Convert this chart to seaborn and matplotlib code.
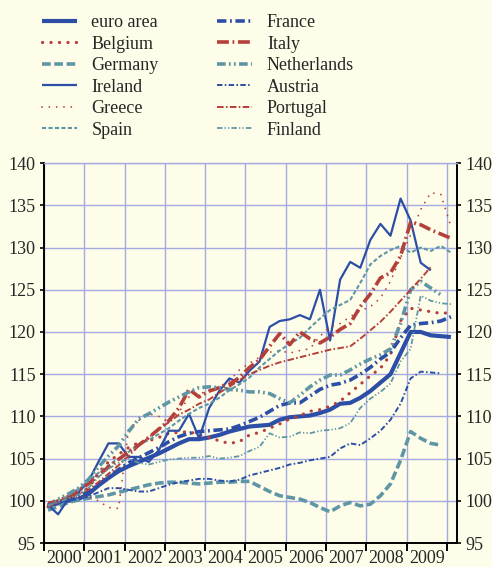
import numpy as np
import pandas as pd
import seaborn as sns
import matplotlib.pyplot as plt
from matplotlib.ticker import FixedLocator

# quarterly index, 2000Q1 = 100
euro_area = [99.4, 99.7, 100.0, 100.2, 100.8, 101.8, 102.7, 103.5, 104.1, 104.6, 105.1, 105.6, 106.2, 106.8,
             107.3, 107.3, 107.5, 107.8, 108.2, 108.5, 108.8, 108.9, 109.0, 109.6, 109.9, 110.0, 110.1, 110.4,
             110.8, 111.5, 111.6, 112.2, 113.0, 114.0, 115.0, 117.5, 120.0, 120.0, 119.6, 119.5, 119.4]
belgium = [99.3, 99.8, 100.3, 100.8, 101.5, 103.3, 104.6, 105.5, 106.3, 106.9, 107.1, 107.5, 108.0, 108.1,
           108.2, 107.8, 107.5, 107.1, 106.8, 107.0, 107.8, 108.1, 108.6, 109.1, 109.7, 110.1, 110.6, 110.8,
           111.2, 111.8, 112.8, 113.8, 114.8, 115.7, 117.3, 121.3, 122.8, 122.6, 122.4, 122.2, 122.3]
germany = [98.9, 99.3, 99.8, 100.1, 100.3, 100.5, 100.7, 101.0, 101.3, 101.6, 101.9, 102.1, 102.2, 102.2,
           102.1, 102.0, 102.1, 102.2, 102.2, 102.3, 102.3, 101.7, 101.1, 100.6, 100.4, 100.2, 99.8, 99.2,
           98.7, 99.4, 99.8, 99.4, 99.6, 100.6, 102.0, 104.8, 108.2, 107.4, 106.8, 106.6]
ireland = [99.5, 98.4, 100.2, 101.0, 102.3, 104.6, 106.8, 106.8, 105.2, 105.2, 104.6, 106.0, 108.3, 108.3,
           110.3, 107.4, 111.0, 113.0, 114.5, 114.0, 115.4, 116.5, 120.6, 121.3, 121.5, 122.0, 121.5, 125.0,
           119.0, 126.2, 128.3, 127.6, 130.9, 132.8, 131.4, 135.8, 133.2, 128.2, 127.3]
greece = [99.6, 99.8, 100.2, 100.5, 100.5, 100.0, 99.2, 99.1, 108.5, 109.5, 110.3, 110.0, 109.3, 110.5,
          112.3, 112.7, 113.0, 113.5, 114.2, 115.5, 116.3, 117.0, 117.6, 117.8, 117.5, 117.8, 118.0, 119.5,
          120.6, 121.0, 121.8, 122.5, 123.0, 124.0, 126.0, 128.8, 131.5, 134.5, 136.5, 136.3, 132.5]
spain = [99.3, 99.8, 100.6, 101.4, 102.3, 103.3, 104.2, 105.0, 105.8, 106.7, 107.2, 107.9, 108.6, 109.5,
         110.3, 111.0, 111.5, 112.2, 113.1, 113.8, 114.6, 115.8, 116.8, 117.8, 118.6, 119.3, 120.5, 121.6,
         122.6, 123.2, 123.8, 125.8, 128.0, 129.0, 129.7, 130.2, 129.4, 130.0, 129.6, 130.2, 129.4]
france = [99.5, 99.8, 100.2, 100.6, 101.0, 101.9, 102.8, 103.7, 104.5, 105.1, 105.7, 106.3, 107.0, 107.6,
          108.0, 108.2, 108.3, 108.4, 108.5, 108.9, 109.4, 109.9, 110.6, 111.3, 111.6, 111.6, 112.4, 113.2,
          113.7, 113.9, 114.3, 115.0, 115.8, 116.8, 117.6, 119.3, 120.8, 121.0, 121.1, 121.3, 121.8]
italy = [99.4, 100.0, 100.5, 101.2, 102.0, 103.0, 104.0, 104.9, 105.8, 106.6, 107.5, 108.5, 109.5, 111.0,
         113.2, 112.3, 113.0, 113.4, 113.8, 114.6, 115.8, 116.7, 118.3, 119.8, 118.5, 120.0, 119.2, 118.7,
         119.4, 120.3, 121.0, 123.0, 124.5, 126.4, 127.0, 129.0, 133.0, 132.7, 132.1, 131.6, 131.1]
netherlands = [99.5, 100.2, 100.8, 101.5, 102.5, 104.0, 105.3, 106.5, 108.2, 109.7, 110.3, 111.0, 111.7, 112.3,
               112.9, 113.4, 113.5, 113.4, 113.2, 113.1, 112.9, 112.9, 112.7, 112.1, 111.6, 112.5, 113.5, 114.3,
               114.9, 114.9, 115.5, 116.2, 116.8, 117.3, 118.0, 121.0, 125.0, 126.0, 125.2, 124.4]
austria = [99.6, 99.8, 100.0, 100.2, 100.5, 101.0, 101.5, 101.5, 101.3, 101.1, 101.1, 101.5, 101.9, 102.2,
           102.4, 102.6, 102.6, 102.4, 102.3, 102.5, 103.0, 103.3, 103.6, 103.9, 104.3, 104.5, 104.8, 105.0,
           105.2, 106.2, 106.8, 106.6, 107.4, 108.3, 109.6, 111.5, 114.5, 115.3, 115.2, 115.1]
portugal = [99.8, 100.0, 100.3, 100.8, 101.3, 102.2, 103.2, 104.2, 105.3, 106.5, 107.5, 108.5, 109.3, 110.2,
            110.8, 111.5, 112.0, 112.8, 113.5, 114.3, 115.0, 115.5, 116.0, 116.4, 116.7, 117.0, 117.3, 117.6,
            117.9, 118.1, 118.3, 119.2, 120.2, 121.2, 122.4, 123.7, 125.0, 126.3, 127.7]
finland = [99.5, 99.8, 100.3, 100.7, 101.5, 102.8, 103.8, 104.5, 105.0, 104.5, 104.3, 104.6, 104.9, 105.0,
           105.1, 105.1, 105.3, 105.0, 105.1, 105.3, 105.9, 106.4, 108.0, 107.5, 107.6, 108.1, 108.0, 108.3,
           108.4, 108.6, 109.2, 111.0, 112.1, 112.9, 113.9, 116.5, 118.0, 124.3, 123.7, 123.4, 123.3]

names = ["euro area", "Belgium", "Germany", "Ireland", "Greece", "Spain",
         "France", "Italy", "Netherlands", "Austria", "Portugal", "Finland"]
series = [euro_area, belgium, germany, ireland, greece, spain,
          france, italy, netherlands, austria, portugal, finland]
years = [str(y) for y in range(2000, 2010)]

blue, red, teal = "#2c4ea6", "#b4403a", "#5f96a6"
# colour, width, dash pattern (None = solid), cap
styles = {
    "euro area":   (blue, 3.0, None, "butt"),
    "Belgium":     (red, 2.3, (0.05, 2.6), "round"),
    "Germany":     (teal, 2.6, (2.4, 1.0), "butt"),
    "Ireland":     (blue, 1.6, None, "butt"),
    "Greece":      (red, 1.3, (0.05, 4.0), "round"),
    "Spain":       (teal, 1.5, (2.0, 1.1), "butt"),
    "France":      (blue, 2.6, (2.6, 1.0, 0.5, 1.0), "butt"),
    "Italy":       (red, 2.6, (3.3, 1.0, 0.5, 1.0), "butt"),
    "Netherlands": (teal, 2.6, (2.4, 0.9, 0.5, 0.9, 0.5, 0.9), "butt"),
    "Austria":     (blue, 1.4, (2.8, 1.2, 0.8, 1.2), "butt"),
    "Portugal":    (red, 1.4, (3.4, 1.2, 0.8, 1.2), "butt"),
    "Finland":     (teal, 1.3, (3.0, 1.2, 0.7, 1.2, 0.7, 1.2), "butt"),
}

bg = "#fefde9"
grid = "#a4aae2"

sns.set_theme(style="white")
plt.rcParams["font.family"] = ["Liberation Serif", "DejaVu Serif"]

fig = plt.figure(figsize=(4.92, 5.67), dpi=100, facecolor=bg)
ax = fig.add_axes([0.0894, 0.0423, 0.8394, 0.670])
ax.set_facecolor(bg)

for name, vals in zip(names, series):
    q = pd.period_range("2000Q1", periods=len(vals), freq="Q")
    x = q.year + (q.quarter - 1) / 4 + 0.1
    col, lw, dash, cap = styles[name]
    kw = dict(color=col, lw=lw, label=name, ax=ax, solid_capstyle="butt")
    if dash is not None:
        kw["dashes"] = dash
        kw["dash_capstyle"] = cap
    sns.lineplot(x=np.asarray(x), y=vals, **kw)

ax.set_xlim(2000, 2010.25)
ax.set_ylim(95, 140)
ax.set_yticks(range(95, 141, 5))
ax.xaxis.set_major_locator(FixedLocator(range(2000, 2011)))
ax.xaxis.set_minor_locator(FixedLocator([y + 0.5 for y in range(2000, 2010)]))
ax.set_xticklabels([])
ax.set_xticklabels(years, minor=True)
ax.set_xlabel("")
ax.set_ylabel("")

ax.grid(True, which="major", color=grid, lw=1.0)
ax.set_axisbelow(True)
for s in ["left", "right", "bottom"]:
    ax.spines[s].set_color("black")
    ax.spines[s].set_linewidth(1.4)
ax.spines["top"].set_color(grid)
ax.spines["top"].set_linewidth(1.0)

ax.tick_params(axis="y", which="major", left=True, right=True, labelleft=True, labelright=True,
               length=3, width=1.2, color="black", pad=3, labelsize=13)
ax.tick_params(axis="x", which="major", bottom=True, length=6, width=1.4, color="black", direction="out")
ax.tick_params(axis="x", which="minor", bottom=True, length=0, pad=5, labelsize=13)

ax.legend(loc="upper left", bbox_to_anchor=(0.07, 0.988), bbox_transform=fig.transFigure,
          ncol=2, frameon=False, fontsize=13, handlelength=1.95, handletextpad=0.8,
          columnspacing=3.25, labelspacing=0.25, borderaxespad=0)

plt.savefig("out.png", dpi=100, facecolor=bg)
